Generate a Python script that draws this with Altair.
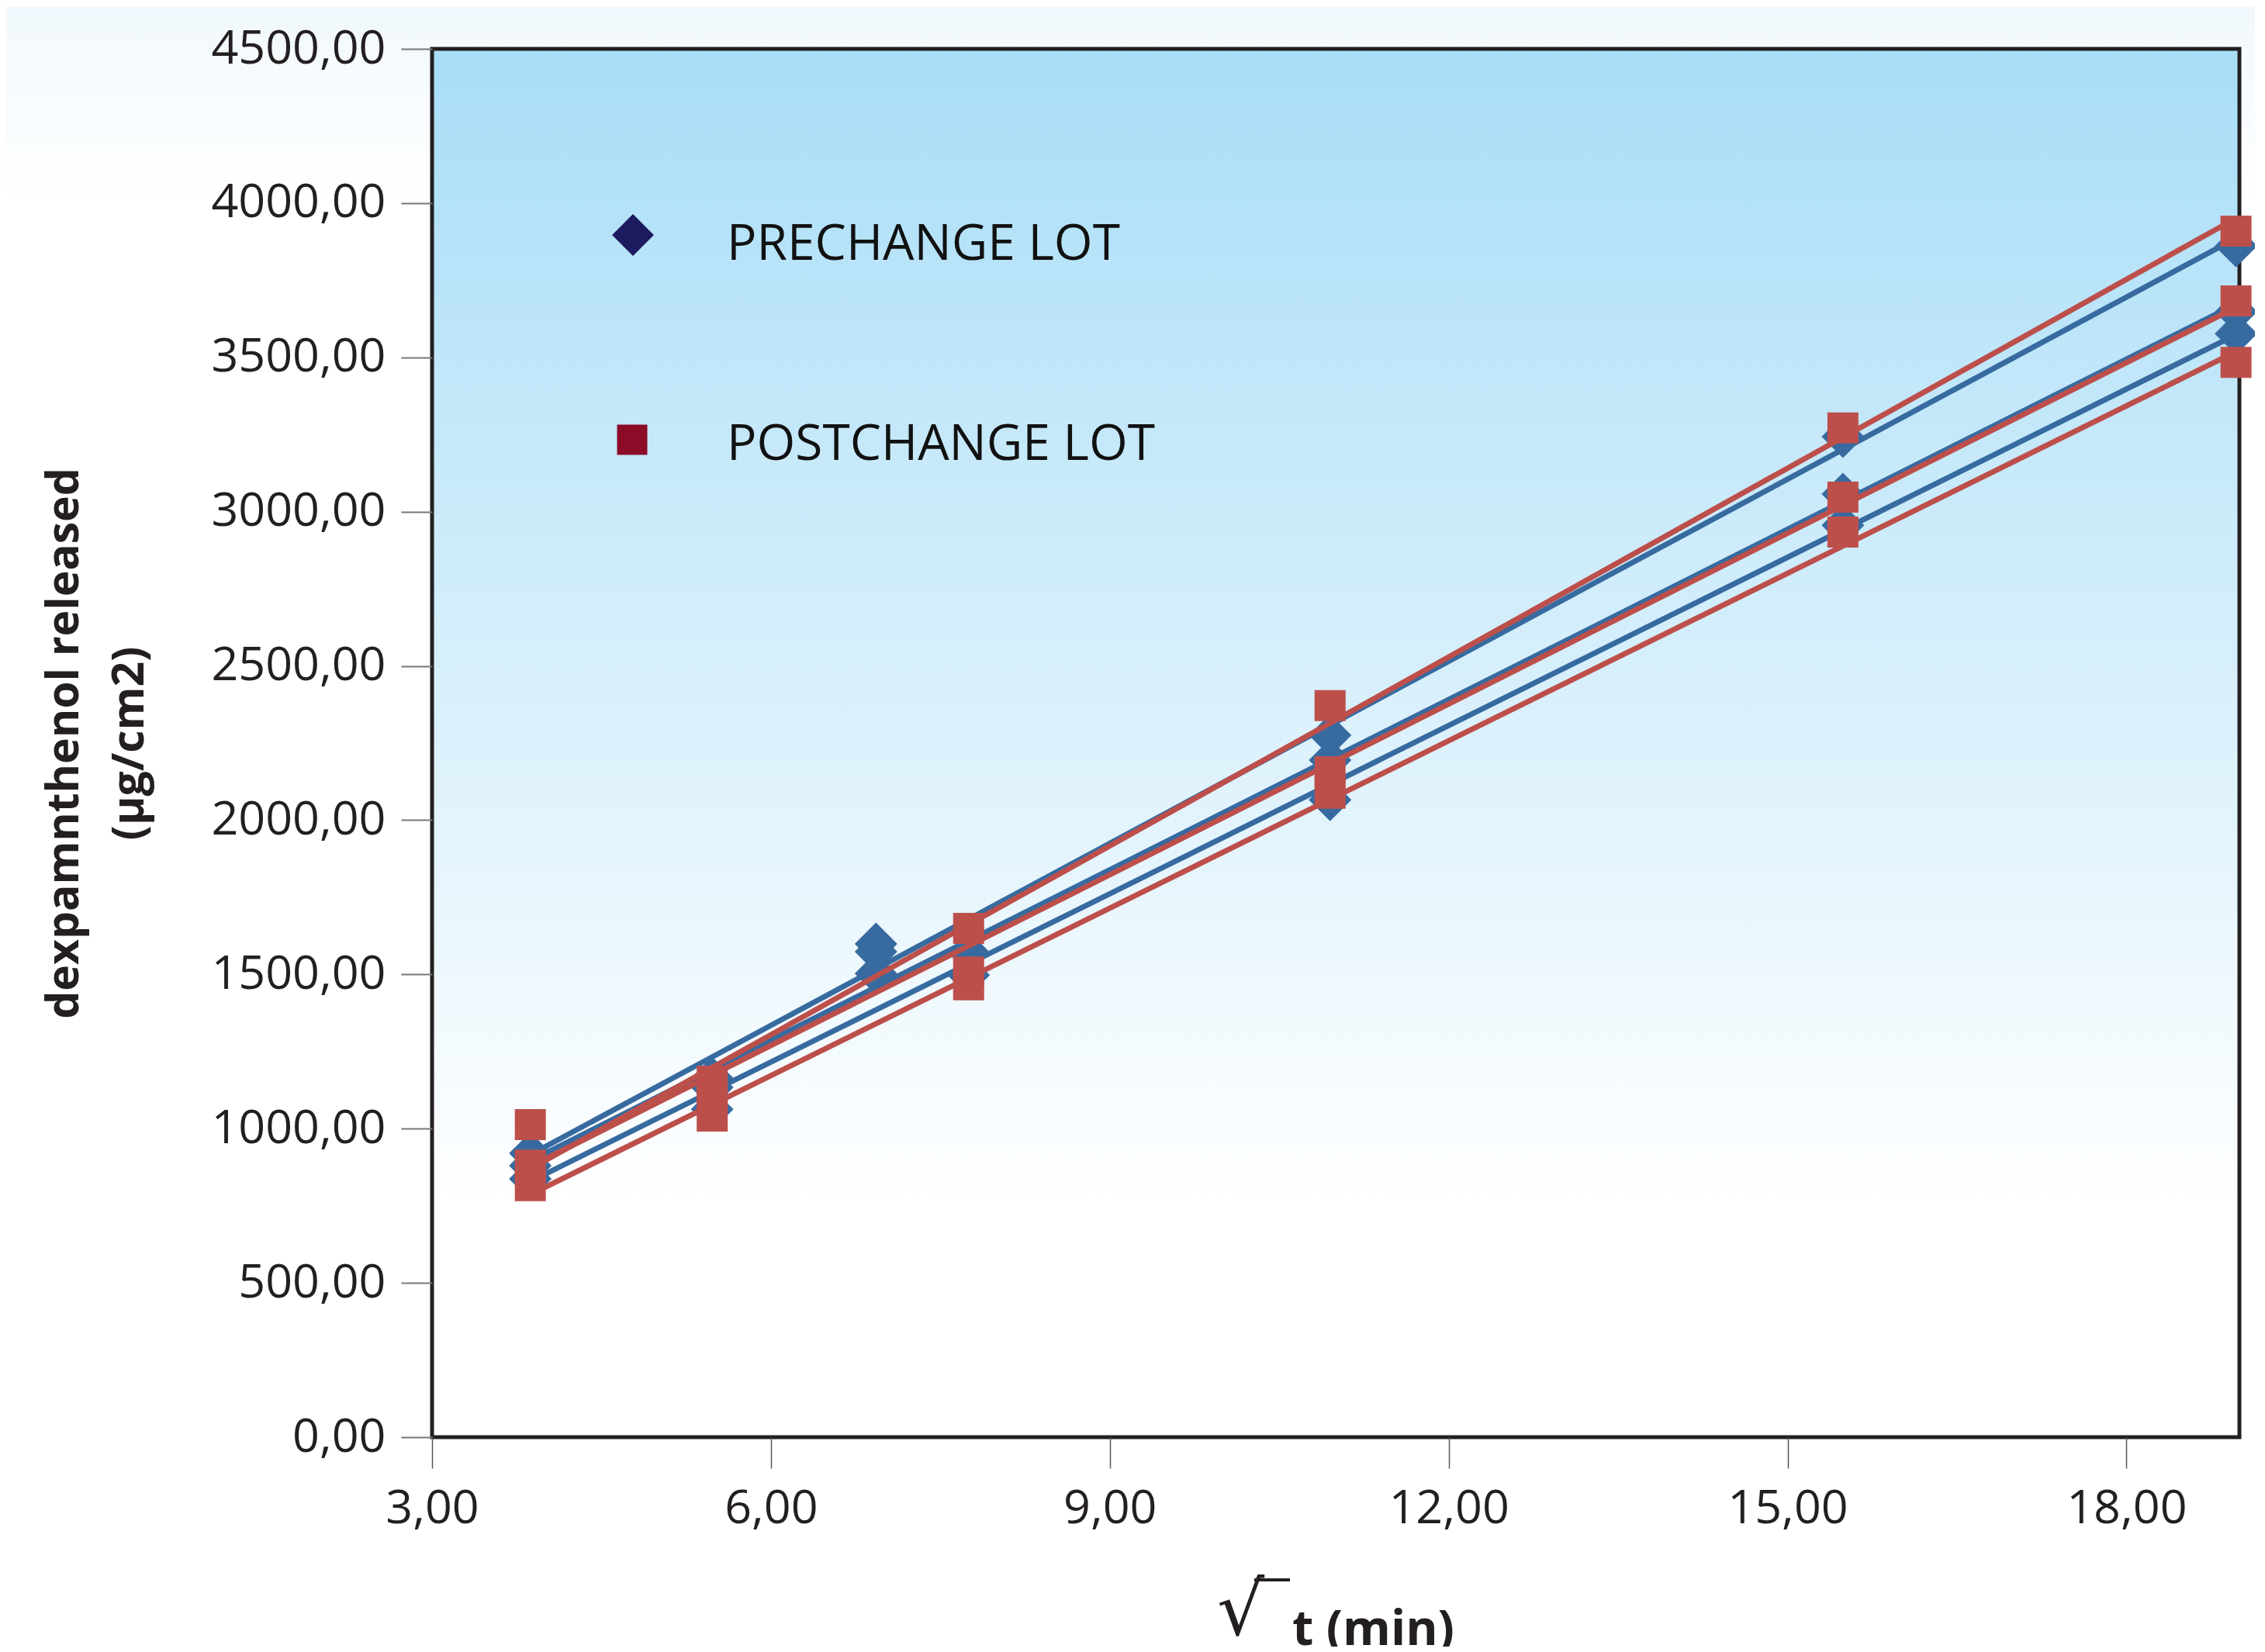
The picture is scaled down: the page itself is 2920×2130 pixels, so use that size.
import altair as alt
import pandas as pd

# ---- data (x = sqrt(t), y = dexpanthenol released) ----
t_blue_1 = [3.87, 5.48, 6.93, 10.95, 15.49, 18.97]
t_blue = [3.87, 5.48, 6.93, 7.75, 10.95, 15.49, 18.97]
t_red = [3.87, 5.48, 7.75, 10.95, 15.49, 18.97]

blue_1 = [920, 1164, 1599, 2275, 3243, 3861]
blue_2 = [880, 1134, 1574, 1571, 2195, 3057, 3648]
blue_3 = [837, 1063, 1503, 1498, 2066, 2956, 3577]

red_1 = [882, 1154, 1649, 2371, 3271, 3909]
red_2 = [1013, 1100, 1508, 2157, 3047, 3683]
red_3 = [815, 1041, 1466, 2087, 2934, 3484]

x_ticks = [3, 6, 9, 12, 15, 18]
y_ticks = [0, 500, 1000, 1500, 2000, 2500, 3000, 3500, 4000, 4500]
legend_labels = ["PRECHANGE LOT", "POSTCHANGE LOT"]
x_title = "t (min)"
radical = ["√"]

rows = []
for name, ts, ys, lot in [
    ("B1", t_blue_1, blue_1, "pre"),
    ("B2", t_blue, blue_2, "pre"),
    ("B3", t_blue, blue_3, "pre"),
    ("R1", t_red, red_1, "post"),
    ("R2", t_red, red_2, "post"),
    ("R3", t_red, red_3, "post"),
]:
    for t, v in zip(ts, ys):
        rows.append({"x": t, "y": v, "series": name, "lot": lot})
df = pd.DataFrame(rows)

W, H = 2330, 1790
FONT = "Open Sans"
INK = "#231F20"
BLUE = "#376BA0"
RED = "#BD4F4B"

label_expr = "replace(format(datum.value, '.2f'), '.', ',')"

x_enc = alt.X(
    "x:Q",
    scale=alt.Scale(domain=[3, 19], nice=False, zero=False),
    axis=alt.Axis(
        values=x_ticks, labelExpr=label_expr, grid=False, domain=False,
        tickSize=40, tickColor="#555555", tickWidth=1.5, zindex=1,
        labelFont=FONT, labelFontSize=61, labelColor=INK, labelPadding=22,
        labelLimit=0, labelOverlap=False, labelFlush=False,
        title=x_title, titleFont=FONT, titleFontSize=63, titleFontWeight="bold",
        titleColor=INK, titleX=1213, titleY=267, titleBaseline="alphabetic",
        titleAlign="center",
    ),
)
y_enc = alt.Y(
    "y:Q",
    scale=alt.Scale(domain=[0, 4500], nice=False),
    axis=alt.Axis(
        values=y_ticks, labelExpr=label_expr, grid=False, domain=False,
        tickSize=40, tickColor="#777777", tickWidth=2, zindex=1,
        labelFont=FONT, labelFontSize=61, labelColor=INK, labelPadding=20,
        labelLimit=0, labelOverlap=False, labelFlush=False,
        title=["dexpamnthenol released", "(µg/cm2)"], titleFont=FONT,
        titleFontSize=57, titleFontWeight="bold", titleColor=INK,
        titleAngle=270, titleX=-457, titleY=895, titleAlign="center",
        titleBaseline="alphabetic", titleLineHeight=84,
    ),
)

one = pd.DataFrame({"k": [0]})

page_bg = alt.Chart(one).mark_rect(
    fill=alt.LinearGradient(
        gradient="linear",
        stops=[alt.GradientStop(color="#F0F8FD", offset=0),
               alt.GradientStop(color="#FFFFFF", offset=1)],
        x1=0, x2=0, y1=0, y2=1,
    )
).encode(x=alt.value(-557), x2=alt.value(2363), y=alt.value(-63), y2=alt.value(200))

plot_bg = alt.Chart(one).mark_rect(
    fill=alt.LinearGradient(
        gradient="linear",
        stops=[alt.GradientStop(color="#A8DDF7", offset=0),
               alt.GradientStop(color="#FFFFFF", offset=0.83),
               alt.GradientStop(color="#FFFFFF", offset=1)],
        x1=0, x2=0, y1=0, y2=1,
    )
).encode(x=alt.value(0), x2=alt.value(W), y=alt.value(0), y2=alt.value(H))

frame = alt.Chart(one).mark_rect(
    fillOpacity=0, stroke=INK, strokeWidth=5
).encode(x=alt.value(0), x2=alt.value(W), y=alt.value(0), y2=alt.value(H))

base = alt.Chart(df)

blue_lines = base.transform_filter("datum.lot == 'pre'").transform_regression(
    "x", "y", groupby=["series"]
).mark_line(color=BLUE, strokeWidth=7).encode(x=x_enc, y=y_enc, detail="series:N")

blue_pts = base.transform_filter("datum.lot == 'pre'").mark_point(
    shape="diamond", filled=True, size=3025, color=BLUE, opacity=1
).encode(x=x_enc, y=y_enc)

red_lines = base.transform_filter("datum.lot == 'post'").transform_regression(
    "x", "y", groupby=["series"]
).mark_line(color=RED, strokeWidth=7).encode(x=x_enc, y=y_enc, detail="series:N")

red_pts = base.transform_filter("datum.lot == 'post'").mark_point(
    shape="square", filled=True, size=1600, color=RED, opacity=1
).encode(x=x_enc, y=y_enc)

# ---- radical sign in front of the x-axis title ----
rad_df = pd.DataFrame({"s": radical})
rad_txt = alt.Chart(rad_df).mark_text(
    font="DejaVu Sans", fontSize=96, color=INK, align="left", baseline="alphabetic"
).encode(x=alt.value(1012), y=alt.value(2045), text="s:N")
rad_bar = alt.Chart(one).mark_rule(color=INK, strokeWidth=4).encode(
    x=alt.value(1060), x2=alt.value(1106), y=alt.value(1974)
)

# ---- legend drawn inside the plot ----
leg_df = pd.DataFrame({"label": legend_labels})
leg_sym1 = alt.Chart(one).mark_point(
    shape="diamond", filled=True, size=2900, color="#1C1B5F", opacity=1
).encode(x=alt.value(259), y=alt.value(240))
leg_sym2 = alt.Chart(one).mark_point(
    shape="square", filled=True, size=1520, color="#8C0B27", opacity=1
).encode(x=alt.value(258), y=alt.value(504))
leg_txt1 = alt.Chart(leg_df.iloc[[0]]).mark_text(
    font=FONT, fontSize=64, fontWeight=500, color="#111111", align="left",
    baseline="alphabetic"
).encode(x=alt.value(380), y=alt.value(272), text="label:N")
leg_txt2 = alt.Chart(leg_df.iloc[[1]]).mark_text(
    font=FONT, fontSize=64, fontWeight=500, color="#111111", align="left",
    baseline="alphabetic"
).encode(x=alt.value(380), y=alt.value(530), text="label:N")

chart = alt.layer(
    page_bg, plot_bg, frame,
    blue_lines, blue_pts, red_lines, red_pts,
    leg_sym1, leg_sym2, leg_txt1, leg_txt2,
    rad_txt, rad_bar,
).properties(
    width=W, height=H,
    padding={"left": 549, "top": 55, "right": 20, "bottom": 270},
    autosize=alt.AutoSizeParams(type="none"),
).configure_view(stroke=None).configure(background="white")

chart.save("out.html", embed_options={"renderer": "svg", "actions": False})
